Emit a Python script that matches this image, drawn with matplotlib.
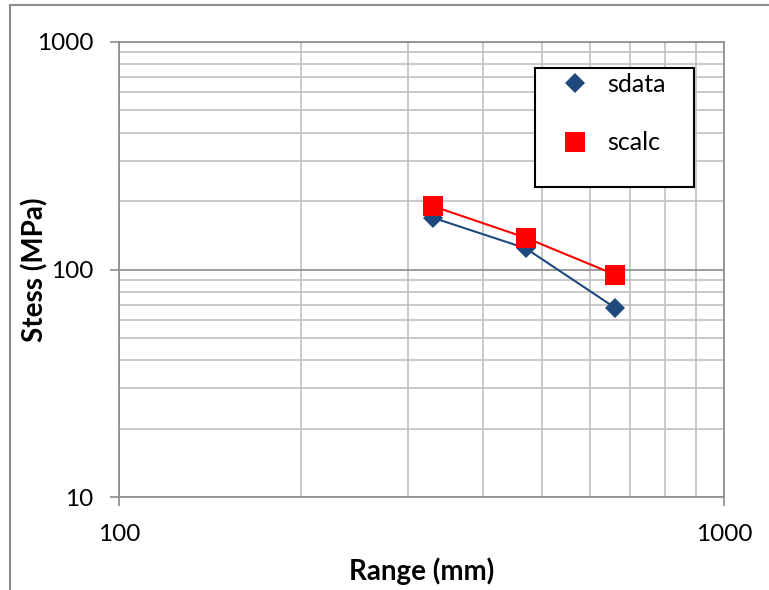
import numpy as np
import matplotlib as mpl
mpl.use("Agg")
from matplotlib import pyplot as plt
from matplotlib.patches import Rectangle
from matplotlib.ticker import LogLocator, NullFormatter, FixedLocator, FixedFormatter

plt.rcParams['font.family'] = ['Lato', 'DejaVu Sans']

# data
range_mm = [330, 470, 660]
sdata = [169, 124, 68]
scalc = [190, 138, 95]

blue = '#1F497D'
red = '#FF0000'

fig = plt.figure(figsize=(7.69, 5.90), dpi=100)
ax = fig.add_axes([119 / 769, 1 - 497 / 590, (724 - 119) / 769, (497 - 42) / 590])

ax.plot(range_mm, sdata, color=blue, lw=1.5, marker='D', ms=10, mec=blue, mew=0,
        label='sdata', zorder=3)
ax.plot(range_mm, scalc, color=red, lw=1.5, marker='s', ms=14.5, mec=red, mew=0,
        label='scalc', zorder=4)

ax.set_xscale('log')
ax.set_yscale('log')
ax.set_xlim(100, 1000)
ax.set_ylim(10, 1000)

ax.xaxis.set_major_locator(FixedLocator([100, 1000]))
ax.xaxis.set_major_formatter(FixedFormatter(['100', '1000']))
ax.yaxis.set_major_locator(FixedLocator([10, 100, 1000]))
ax.yaxis.set_major_formatter(FixedFormatter(['10', '100', '1000']))
ax.xaxis.set_minor_locator(LogLocator(base=10, subs=np.arange(2, 10)))
ax.yaxis.set_minor_locator(LogLocator(base=10, subs=np.arange(2, 10)))
ax.xaxis.set_minor_formatter(NullFormatter())
ax.yaxis.set_minor_formatter(NullFormatter())

ax.grid(which='major', color='#8C8C8C', lw=1.2)
ax.grid(which='minor', color='#C0C0C0', lw=1.2)
ax.set_axisbelow(True)
ax.tick_params(which='minor', length=0)
ax.tick_params(which='major', length=6.5, width=1.2, color='#8C8C8C', labelsize=17.5)
ax.tick_params(axis='y', pad=12)
ax.tick_params(axis='x', pad=13)
for side in ['left', 'bottom', 'top', 'right']:
    ax.spines[side].set_color('#8C8C8C')
    ax.spines[side].set_linewidth(1.2)

ax.set_xlabel('Range (mm)', fontsize=20, fontweight='bold', labelpad=9)
ax.set_ylabel('Stess (MPa)', fontsize=20, fontweight='bold')
ax.yaxis.set_label_coords(-0.117, 0.5)

# legend box
fig.patches.append(Rectangle((535 / 769, 1 - 187 / 590), (694 - 535) / 769, (187 - 68) / 590,
                             transform=fig.transFigure, fill=True, facecolor='white',
                             edgecolor='black', lw=1.5, zorder=5))
leg = fig.legend(loc='upper left', bbox_to_anchor=(550 / 769, 1 - 72.5 / 590),
                 frameon=False, fontsize=18, handlelength=2, handletextpad=0.28,
                 borderpad=0, borderaxespad=0, labelspacing=1.44)
for h in leg.legend_handles:
    h.set_linestyle('none')
leg.set_zorder(6)

# outer chart border
fig.patches.append(Rectangle((10 / 769, -0.1), 1, 1 - 5 / 590 + 0.1,
                             transform=fig.transFigure, fill=False,
                             edgecolor='#8C8C8C', lw=1.5))

fig.savefig('out.png', dpi=100)
